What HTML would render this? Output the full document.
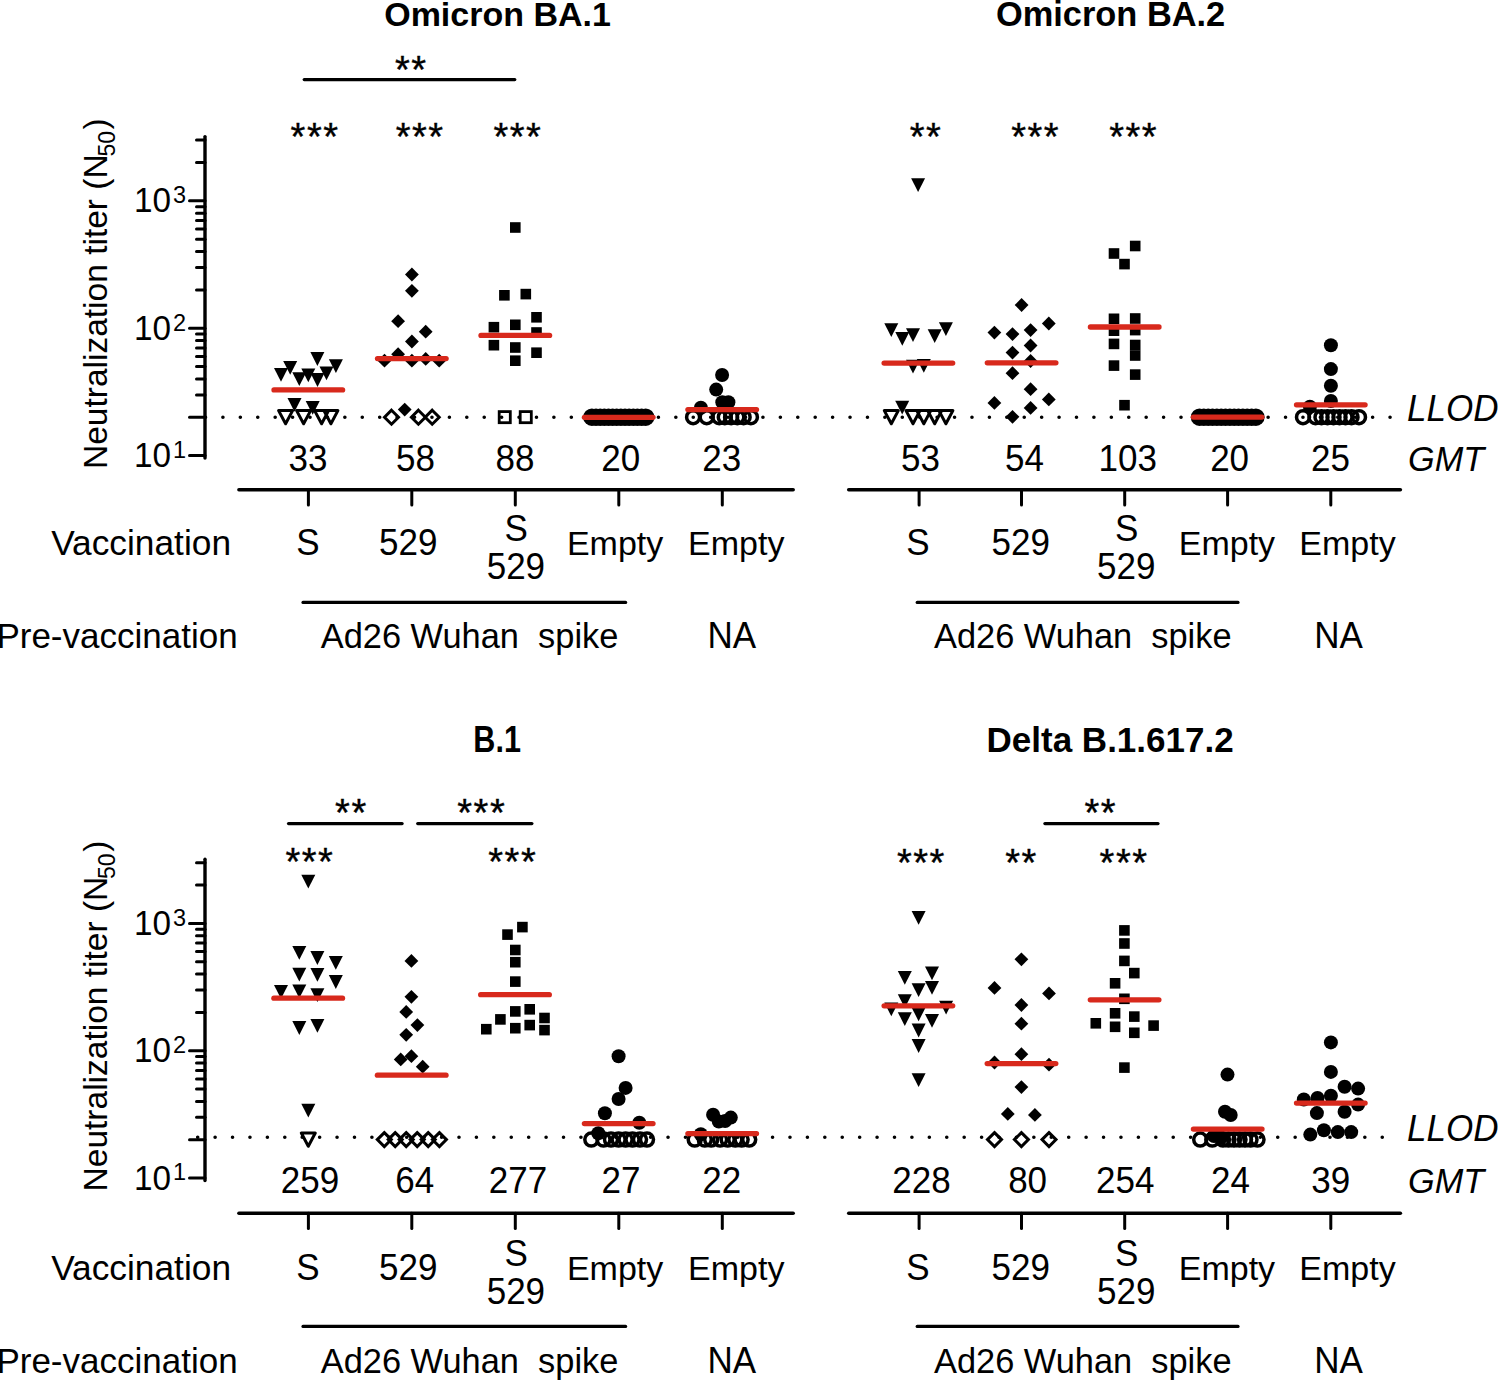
<!DOCTYPE html>
<html><head><meta charset="utf-8"><style>
html,body{margin:0;padding:0;background:#fff;width:1498px;height:1380px;overflow:hidden}
svg{display:block}
text{fill:#000;font-family:"Liberation Sans",sans-serif}
</style></head><body>
<svg width="1498" height="1380" viewBox="0 0 1498 1380">
<rect width="1498" height="1380" fill="#fff"/>
<line x1="205.0" y1="136.6" x2="205.0" y2="458.1" stroke="#000" stroke-width="3.4" stroke-linecap="round"/>
<line x1="189.5" y1="455.6" x2="205.0" y2="455.6" stroke="#000" stroke-width="3" stroke-linecap="round"/>
<line x1="189.5" y1="328.2" x2="205.0" y2="328.2" stroke="#000" stroke-width="3" stroke-linecap="round"/>
<line x1="189.5" y1="200.8" x2="205.0" y2="200.8" stroke="#000" stroke-width="3" stroke-linecap="round"/>
<line x1="189.5" y1="417.3" x2="205.0" y2="417.3" stroke="#000" stroke-width="3" stroke-linecap="round"/>
<line x1="196.5" y1="394.9" x2="205.0" y2="394.9" stroke="#000" stroke-width="3" stroke-linecap="round"/>
<line x1="196.5" y1="378.9" x2="205.0" y2="378.9" stroke="#000" stroke-width="3" stroke-linecap="round"/>
<line x1="196.5" y1="366.6" x2="205.0" y2="366.6" stroke="#000" stroke-width="3" stroke-linecap="round"/>
<line x1="196.5" y1="356.5" x2="205.0" y2="356.5" stroke="#000" stroke-width="3" stroke-linecap="round"/>
<line x1="196.5" y1="348.0" x2="205.0" y2="348.0" stroke="#000" stroke-width="3" stroke-linecap="round"/>
<line x1="196.5" y1="340.6" x2="205.0" y2="340.6" stroke="#000" stroke-width="3" stroke-linecap="round"/>
<line x1="196.5" y1="334.1" x2="205.0" y2="334.1" stroke="#000" stroke-width="3" stroke-linecap="round"/>
<line x1="196.5" y1="289.9" x2="205.0" y2="289.9" stroke="#000" stroke-width="3" stroke-linecap="round"/>
<line x1="196.5" y1="267.5" x2="205.0" y2="267.5" stroke="#000" stroke-width="3" stroke-linecap="round"/>
<line x1="196.5" y1="251.5" x2="205.0" y2="251.5" stroke="#000" stroke-width="3" stroke-linecap="round"/>
<line x1="196.5" y1="239.2" x2="205.0" y2="239.2" stroke="#000" stroke-width="3" stroke-linecap="round"/>
<line x1="196.5" y1="229.1" x2="205.0" y2="229.1" stroke="#000" stroke-width="3" stroke-linecap="round"/>
<line x1="196.5" y1="220.6" x2="205.0" y2="220.6" stroke="#000" stroke-width="3" stroke-linecap="round"/>
<line x1="196.5" y1="213.2" x2="205.0" y2="213.2" stroke="#000" stroke-width="3" stroke-linecap="round"/>
<line x1="196.5" y1="206.7" x2="205.0" y2="206.7" stroke="#000" stroke-width="3" stroke-linecap="round"/>
<line x1="196.5" y1="162.5" x2="205.0" y2="162.5" stroke="#000" stroke-width="3" stroke-linecap="round"/>
<line x1="196.5" y1="140.1" x2="205.0" y2="140.1" stroke="#000" stroke-width="3" stroke-linecap="round"/>
<line x1="205.0" y1="859.2" x2="205.0" y2="1180.5" stroke="#000" stroke-width="3.4" stroke-linecap="round"/>
<line x1="189.5" y1="1178.0" x2="205.0" y2="1178.0" stroke="#000" stroke-width="3" stroke-linecap="round"/>
<line x1="189.5" y1="1050.7" x2="205.0" y2="1050.7" stroke="#000" stroke-width="3" stroke-linecap="round"/>
<line x1="189.5" y1="923.4" x2="205.0" y2="923.4" stroke="#000" stroke-width="3" stroke-linecap="round"/>
<line x1="189.5" y1="1139.7" x2="205.0" y2="1139.7" stroke="#000" stroke-width="3" stroke-linecap="round"/>
<line x1="196.5" y1="1117.3" x2="205.0" y2="1117.3" stroke="#000" stroke-width="3" stroke-linecap="round"/>
<line x1="196.5" y1="1101.4" x2="205.0" y2="1101.4" stroke="#000" stroke-width="3" stroke-linecap="round"/>
<line x1="196.5" y1="1089.0" x2="205.0" y2="1089.0" stroke="#000" stroke-width="3" stroke-linecap="round"/>
<line x1="196.5" y1="1078.9" x2="205.0" y2="1078.9" stroke="#000" stroke-width="3" stroke-linecap="round"/>
<line x1="196.5" y1="1070.4" x2="205.0" y2="1070.4" stroke="#000" stroke-width="3" stroke-linecap="round"/>
<line x1="196.5" y1="1063.0" x2="205.0" y2="1063.0" stroke="#000" stroke-width="3" stroke-linecap="round"/>
<line x1="196.5" y1="1056.5" x2="205.0" y2="1056.5" stroke="#000" stroke-width="3" stroke-linecap="round"/>
<line x1="196.5" y1="1012.4" x2="205.0" y2="1012.4" stroke="#000" stroke-width="3" stroke-linecap="round"/>
<line x1="196.5" y1="990.0" x2="205.0" y2="990.0" stroke="#000" stroke-width="3" stroke-linecap="round"/>
<line x1="196.5" y1="974.1" x2="205.0" y2="974.1" stroke="#000" stroke-width="3" stroke-linecap="round"/>
<line x1="196.5" y1="961.7" x2="205.0" y2="961.7" stroke="#000" stroke-width="3" stroke-linecap="round"/>
<line x1="196.5" y1="951.6" x2="205.0" y2="951.6" stroke="#000" stroke-width="3" stroke-linecap="round"/>
<line x1="196.5" y1="943.1" x2="205.0" y2="943.1" stroke="#000" stroke-width="3" stroke-linecap="round"/>
<line x1="196.5" y1="935.7" x2="205.0" y2="935.7" stroke="#000" stroke-width="3" stroke-linecap="round"/>
<line x1="196.5" y1="929.2" x2="205.0" y2="929.2" stroke="#000" stroke-width="3" stroke-linecap="round"/>
<line x1="196.5" y1="885.1" x2="205.0" y2="885.1" stroke="#000" stroke-width="3" stroke-linecap="round"/>
<line x1="196.5" y1="862.7" x2="205.0" y2="862.7" stroke="#000" stroke-width="3" stroke-linecap="round"/>
<text transform="translate(133.9,467.15) scale(1,1.04)" font-size="33.3">10</text>
<text transform="translate(173.1,457.95) scale(1,1.04)" font-size="23.5">1</text>
<text transform="translate(133.9,339.75) scale(1,1.04)" font-size="33.3">10</text>
<text transform="translate(173.1,330.55) scale(1,1.04)" font-size="23.5">2</text>
<text transform="translate(133.9,212.35) scale(1,1.04)" font-size="33.3">10</text>
<text transform="translate(173.1,203.15) scale(1,1.04)" font-size="23.5">3</text>
<text transform="translate(106.8,469.0) rotate(-90)" font-size="33.5" x="0" y="0">Neutralization titer (N<tspan font-size="23" dx="-2.2" dy="7.8">50</tspan><tspan dx="1.6" dy="-7.8">)</tspan></text>
<text transform="translate(133.9,1189.50) scale(1,1.04)" font-size="33.3">10</text>
<text transform="translate(173.1,1180.30) scale(1,1.04)" font-size="23.5">1</text>
<text transform="translate(133.9,1062.20) scale(1,1.04)" font-size="33.3">10</text>
<text transform="translate(173.1,1053.00) scale(1,1.04)" font-size="23.5">2</text>
<text transform="translate(133.9,934.90) scale(1,1.04)" font-size="33.3">10</text>
<text transform="translate(173.1,925.70) scale(1,1.04)" font-size="23.5">3</text>
<text transform="translate(106.8,1191.4) rotate(-90)" font-size="33.5" x="0" y="0">Neutralization titer (N<tspan font-size="23" dx="-2.2" dy="7.8">50</tspan><tspan dx="1.6" dy="-7.8">)</tspan></text>
<line x1="205.5" y1="417.2" x2="1393.1" y2="417.2" stroke="#000" stroke-width="3.6" stroke-linecap="round" stroke-dasharray="0 17.42"/>
<line x1="197.7" y1="1137.3" x2="1385.3" y2="1137.3" stroke="#000" stroke-width="3.6" stroke-linecap="round" stroke-dasharray="0 17.42"/>
<line x1="238.9" y1="489.8" x2="793.2" y2="489.8" stroke="#000" stroke-width="3.5" stroke-linecap="round"/>
<line x1="308.4" y1="489.8" x2="308.4" y2="505.0" stroke="#000" stroke-width="3" stroke-linecap="round"/>
<line x1="411.8" y1="489.8" x2="411.8" y2="505.0" stroke="#000" stroke-width="3" stroke-linecap="round"/>
<line x1="515.3" y1="489.8" x2="515.3" y2="505.0" stroke="#000" stroke-width="3" stroke-linecap="round"/>
<line x1="618.8" y1="489.8" x2="618.8" y2="505.0" stroke="#000" stroke-width="3" stroke-linecap="round"/>
<line x1="722.3" y1="489.8" x2="722.3" y2="505.0" stroke="#000" stroke-width="3" stroke-linecap="round"/>
<line x1="303.0" y1="602.4" x2="625.6" y2="602.4" stroke="#000" stroke-width="3.2" stroke-linecap="round"/>
<line x1="848.7" y1="489.8" x2="1400.4" y2="489.8" stroke="#000" stroke-width="3.5" stroke-linecap="round"/>
<line x1="919.1" y1="489.8" x2="919.1" y2="505.0" stroke="#000" stroke-width="3" stroke-linecap="round"/>
<line x1="1021.5" y1="489.8" x2="1021.5" y2="505.0" stroke="#000" stroke-width="3" stroke-linecap="round"/>
<line x1="1124.7" y1="489.8" x2="1124.7" y2="505.0" stroke="#000" stroke-width="3" stroke-linecap="round"/>
<line x1="1227.6" y1="489.8" x2="1227.6" y2="505.0" stroke="#000" stroke-width="3" stroke-linecap="round"/>
<line x1="1330.8" y1="489.8" x2="1330.8" y2="505.0" stroke="#000" stroke-width="3" stroke-linecap="round"/>
<line x1="917.2" y1="602.4" x2="1238.0" y2="602.4" stroke="#000" stroke-width="3.2" stroke-linecap="round"/>
<line x1="238.9" y1="1213.2" x2="793.2" y2="1213.2" stroke="#000" stroke-width="3.5" stroke-linecap="round"/>
<line x1="308.4" y1="1213.2" x2="308.4" y2="1228.4" stroke="#000" stroke-width="3" stroke-linecap="round"/>
<line x1="411.8" y1="1213.2" x2="411.8" y2="1228.4" stroke="#000" stroke-width="3" stroke-linecap="round"/>
<line x1="515.3" y1="1213.2" x2="515.3" y2="1228.4" stroke="#000" stroke-width="3" stroke-linecap="round"/>
<line x1="618.8" y1="1213.2" x2="618.8" y2="1228.4" stroke="#000" stroke-width="3" stroke-linecap="round"/>
<line x1="722.3" y1="1213.2" x2="722.3" y2="1228.4" stroke="#000" stroke-width="3" stroke-linecap="round"/>
<line x1="303.0" y1="1326.4" x2="625.6" y2="1326.4" stroke="#000" stroke-width="3.2" stroke-linecap="round"/>
<line x1="848.7" y1="1213.2" x2="1400.4" y2="1213.2" stroke="#000" stroke-width="3.5" stroke-linecap="round"/>
<line x1="919.1" y1="1213.2" x2="919.1" y2="1228.4" stroke="#000" stroke-width="3" stroke-linecap="round"/>
<line x1="1021.5" y1="1213.2" x2="1021.5" y2="1228.4" stroke="#000" stroke-width="3" stroke-linecap="round"/>
<line x1="1124.7" y1="1213.2" x2="1124.7" y2="1228.4" stroke="#000" stroke-width="3" stroke-linecap="round"/>
<line x1="1227.6" y1="1213.2" x2="1227.6" y2="1228.4" stroke="#000" stroke-width="3" stroke-linecap="round"/>
<line x1="1330.8" y1="1213.2" x2="1330.8" y2="1228.4" stroke="#000" stroke-width="3" stroke-linecap="round"/>
<line x1="917.2" y1="1326.4" x2="1238.0" y2="1326.4" stroke="#000" stroke-width="3.2" stroke-linecap="round"/>
<line x1="304.2" y1="79.6" x2="514.8" y2="79.6" stroke="#000" stroke-width="3.2" stroke-linecap="round"/>
<line x1="288.5" y1="823.6" x2="402.1" y2="823.6" stroke="#000" stroke-width="3.2" stroke-linecap="round"/>
<line x1="417.7" y1="823.6" x2="531.9" y2="823.6" stroke="#000" stroke-width="3.2" stroke-linecap="round"/>
<line x1="1044.9" y1="823.6" x2="1158.0" y2="823.6" stroke="#000" stroke-width="3.2" stroke-linecap="round"/>
<text x="395.0" y="82.6" font-size="38" letter-spacing="1.52" stroke="#000" stroke-width="0.4">**</text>
<text x="290.6" y="150.3" font-size="38" letter-spacing="1.52" stroke="#000" stroke-width="0.4">***</text>
<text x="395.7" y="150.1" font-size="38" letter-spacing="1.52" stroke="#000" stroke-width="0.4">***</text>
<text x="493.4" y="150.1" font-size="38" letter-spacing="1.52" stroke="#000" stroke-width="0.4">***</text>
<text x="909.7" y="150.1" font-size="38" letter-spacing="1.52" stroke="#000" stroke-width="0.4">**</text>
<text x="1011.2" y="150.1" font-size="38" letter-spacing="1.52" stroke="#000" stroke-width="0.4">***</text>
<text x="1109.2" y="150.1" font-size="38" letter-spacing="1.52" stroke="#000" stroke-width="0.4">***</text>
<text x="335.1" y="825.7" font-size="38" letter-spacing="1.52" stroke="#000" stroke-width="0.4">**</text>
<text x="457.3" y="825.7" font-size="38" letter-spacing="1.52" stroke="#000" stroke-width="0.4">***</text>
<text x="285.4" y="875.4" font-size="38" letter-spacing="1.52" stroke="#000" stroke-width="0.4">***</text>
<text x="488.3" y="875.4" font-size="38" letter-spacing="1.52" stroke="#000" stroke-width="0.4">***</text>
<text x="1084.5" y="825.7" font-size="38" letter-spacing="1.52" stroke="#000" stroke-width="0.4">**</text>
<text x="897.0" y="875.7" font-size="38" letter-spacing="1.52" stroke="#000" stroke-width="0.4">***</text>
<text x="1005.2" y="875.7" font-size="38" letter-spacing="1.52" stroke="#000" stroke-width="0.4">**</text>
<text x="1099.6" y="875.7" font-size="38" letter-spacing="1.52" stroke="#000" stroke-width="0.4">***</text>
<text x="497.55" y="25.90" font-size="34" text-anchor="middle" font-weight="bold">Omicron BA.1</text>
<text x="1110.60" y="25.90" font-size="34.4" text-anchor="middle" font-weight="bold">Omicron BA.2</text>
<text transform="translate(497.15,751.90) scale(0.9,1.09)" font-size="34" text-anchor="middle" font-weight="bold">B.1</text>
<text x="1110.10" y="752.30" font-size="35" text-anchor="middle" font-weight="bold">Delta B.1.617.2</text>
<text transform="translate(308.05,471.00) scale(1.0,1.04)" font-size="35" text-anchor="middle">33</text>
<text transform="translate(415.45,471.00) scale(1.0,1.04)" font-size="35" text-anchor="middle">58</text>
<text transform="translate(515.05,471.00) scale(1.0,1.04)" font-size="35" text-anchor="middle">88</text>
<text transform="translate(620.70,471.00) scale(1.0,1.04)" font-size="35" text-anchor="middle">20</text>
<text transform="translate(721.70,471.00) scale(1.0,1.04)" font-size="35" text-anchor="middle">23</text>
<text transform="translate(920.45,471.00) scale(1.0,1.04)" font-size="35" text-anchor="middle">53</text>
<text transform="translate(1024.45,471.00) scale(1.0,1.04)" font-size="35" text-anchor="middle">54</text>
<text transform="translate(1127.65,471.00) scale(1.0,1.04)" font-size="35" text-anchor="middle">103</text>
<text transform="translate(1229.60,471.00) scale(1.0,1.04)" font-size="35" text-anchor="middle">20</text>
<text transform="translate(1330.40,471.00) scale(1.0,1.04)" font-size="35" text-anchor="middle">25</text>
<text transform="translate(310.00,1193.00) scale(1.0,1.04)" font-size="35" text-anchor="middle">259</text>
<text transform="translate(414.70,1193.00) scale(1.0,1.04)" font-size="35" text-anchor="middle">64</text>
<text transform="translate(518.00,1193.00) scale(1.0,1.04)" font-size="35" text-anchor="middle">277</text>
<text transform="translate(621.00,1193.00) scale(1.0,1.04)" font-size="35" text-anchor="middle">27</text>
<text transform="translate(721.70,1193.00) scale(1.0,1.04)" font-size="35" text-anchor="middle">22</text>
<text transform="translate(921.40,1193.00) scale(1.0,1.04)" font-size="35" text-anchor="middle">228</text>
<text transform="translate(1027.60,1193.00) scale(1.0,1.04)" font-size="35" text-anchor="middle">80</text>
<text transform="translate(1125.30,1193.00) scale(1.0,1.04)" font-size="35" text-anchor="middle">254</text>
<text transform="translate(1230.50,1193.00) scale(1.0,1.04)" font-size="35" text-anchor="middle">24</text>
<text transform="translate(1330.80,1193.00) scale(1.0,1.04)" font-size="35" text-anchor="middle">39</text>
<text x="141.10" y="554.90" font-size="35.3" text-anchor="middle">Vaccination</text>
<text x="117.00" y="647.50" font-size="35" text-anchor="middle">Pre-vaccination</text>
<text transform="translate(1452.80,420.80) scale(1.0,1.04)" font-size="35" text-anchor="middle" font-style="italic">LLOD</text>
<text transform="translate(1446.10,470.90) scale(1.0,1.04)" font-size="34.3" text-anchor="middle" font-style="italic">GMT</text>
<text transform="translate(307.85,554.90) scale(1.0,1.04)" font-size="35" text-anchor="middle">S</text>
<text transform="translate(408.30,554.90) scale(1.0,1.04)" font-size="35" text-anchor="middle">529</text>
<text transform="translate(516.20,541.10) scale(1.0,1.04)" font-size="35" text-anchor="middle">S</text>
<text transform="translate(515.85,579.30) scale(1.0,1.04)" font-size="35" text-anchor="middle">529</text>
<text x="615.10" y="554.90" font-size="34" text-anchor="middle">Empty</text>
<text x="736.30" y="554.90" font-size="34" text-anchor="middle">Empty</text>
<text x="469.55" y="647.50" font-size="34.4" text-anchor="middle">Ad26 Wuhan&#160;&#160;spike</text>
<text transform="translate(731.85,647.50) scale(1.0,1.04)" font-size="35" text-anchor="middle">NA</text>
<text transform="translate(918.00,554.90) scale(1.0,1.04)" font-size="35" text-anchor="middle">S</text>
<text transform="translate(1020.75,554.90) scale(1.0,1.04)" font-size="35" text-anchor="middle">529</text>
<text transform="translate(1126.60,541.10) scale(1.0,1.04)" font-size="35" text-anchor="middle">S</text>
<text transform="translate(1126.25,579.30) scale(1.0,1.04)" font-size="35" text-anchor="middle">529</text>
<text x="1226.90" y="554.90" font-size="34" text-anchor="middle">Empty</text>
<text x="1347.55" y="554.90" font-size="34" text-anchor="middle">Empty</text>
<text x="1082.75" y="647.50" font-size="34.4" text-anchor="middle">Ad26 Wuhan&#160;&#160;spike</text>
<text transform="translate(1338.45,647.50) scale(1.0,1.04)" font-size="35" text-anchor="middle">NA</text>
<text x="141.10" y="1279.90" font-size="35.3" text-anchor="middle">Vaccination</text>
<text x="117.00" y="1372.50" font-size="35" text-anchor="middle">Pre-vaccination</text>
<text transform="translate(1452.80,1140.80) scale(1.0,1.04)" font-size="35" text-anchor="middle" font-style="italic">LLOD</text>
<text transform="translate(1446.10,1193.00) scale(1.0,1.04)" font-size="34.3" text-anchor="middle" font-style="italic">GMT</text>
<text transform="translate(307.85,1279.90) scale(1.0,1.04)" font-size="35" text-anchor="middle">S</text>
<text transform="translate(408.30,1279.90) scale(1.0,1.04)" font-size="35" text-anchor="middle">529</text>
<text transform="translate(516.20,1266.10) scale(1.0,1.04)" font-size="35" text-anchor="middle">S</text>
<text transform="translate(515.85,1304.30) scale(1.0,1.04)" font-size="35" text-anchor="middle">529</text>
<text x="615.10" y="1279.90" font-size="34" text-anchor="middle">Empty</text>
<text x="736.30" y="1279.90" font-size="34" text-anchor="middle">Empty</text>
<text x="469.55" y="1372.50" font-size="34.4" text-anchor="middle">Ad26 Wuhan&#160;&#160;spike</text>
<text transform="translate(731.85,1372.50) scale(1.0,1.04)" font-size="35" text-anchor="middle">NA</text>
<text transform="translate(918.00,1279.90) scale(1.0,1.04)" font-size="35" text-anchor="middle">S</text>
<text transform="translate(1020.75,1279.90) scale(1.0,1.04)" font-size="35" text-anchor="middle">529</text>
<text transform="translate(1126.60,1266.10) scale(1.0,1.04)" font-size="35" text-anchor="middle">S</text>
<text transform="translate(1126.25,1304.30) scale(1.0,1.04)" font-size="35" text-anchor="middle">529</text>
<text x="1226.90" y="1279.90" font-size="34" text-anchor="middle">Empty</text>
<text x="1347.55" y="1279.90" font-size="34" text-anchor="middle">Empty</text>
<text x="1082.75" y="1372.50" font-size="34.4" text-anchor="middle">Ad26 Wuhan&#160;&#160;spike</text>
<text transform="translate(1338.45,1372.50) scale(1.0,1.04)" font-size="35" text-anchor="middle">NA</text>
<g fill="#000">
<path d="M274.0 367.9H288.0L281.0 381.7Z"/>
<path d="M283.2 360.9H297.2L290.2 374.7Z"/>
<path d="M310.4 352.1H324.4L317.4 365.9Z"/>
<path d="M328.9 359.2H342.9L335.9 373.0Z"/>
<path d="M292.3 372.2H306.3L299.3 386.0Z"/>
<path d="M301.3 368.5H315.3L308.3 382.3Z"/>
<path d="M310.5 373.1H324.5L317.5 386.9Z"/>
<path d="M319.5 366.4H333.5L326.5 380.2Z"/>
<path d="M287.5 398.0H301.5L294.5 411.8Z"/>
<path d="M305.7 400.9H319.7L312.7 414.7Z"/>
<path d="M278.6 410.6H292.6L285.6 423.8Z" fill="none" stroke="#000" stroke-width="3" stroke-linejoin="round"/>
<path d="M296.6 410.6H310.6L303.6 423.8Z" fill="none" stroke="#000" stroke-width="3" stroke-linejoin="round"/>
<path d="M314.6 410.6H328.6L321.6 423.8Z" fill="none" stroke="#000" stroke-width="3" stroke-linejoin="round"/>
<path d="M323.9 410.6H337.9L330.9 423.8Z" fill="none" stroke="#000" stroke-width="3" stroke-linejoin="round"/>
<path d="M411.9 267.6L418.8 274.5L411.9 281.4L405.0 274.5Z"/>
<path d="M411.9 283.9L418.8 290.8L411.9 297.7L405.0 290.8Z"/>
<path d="M398.1 314.3L405.0 321.2L398.1 328.1L391.2 321.2Z"/>
<path d="M425.7 324.8L432.6 331.7L425.7 338.6L418.8 331.7Z"/>
<path d="M411.9 334.6L418.8 341.5L411.9 348.4L405.0 341.5Z"/>
<path d="M398.1 347.3L405.0 354.2L398.1 361.1L391.2 354.2Z"/>
<path d="M384.5 353.8L391.4 360.7L384.5 367.6L377.6 360.7Z"/>
<path d="M411.9 353.8L418.8 360.7L411.9 367.6L405.0 360.7Z"/>
<path d="M425.7 352.0L432.6 358.9L425.7 365.8L418.8 358.9Z"/>
<path d="M439.2 353.8L446.1 360.7L439.2 367.6L432.3 360.7Z"/>
<path d="M404.7 402.7L411.6 409.6L404.7 416.5L397.8 409.6Z"/>
<path d="M391.5 410.2L398.5 417.2L391.5 424.2L384.5 417.2Z" fill="none" stroke="#000" stroke-width="3"/>
<path d="M418.4 410.2L425.4 417.2L418.4 424.2L411.4 417.2Z" fill="none" stroke="#000" stroke-width="3"/>
<path d="M432.2 410.2L439.2 417.2L432.2 424.2L425.2 417.2Z" fill="none" stroke="#000" stroke-width="3"/>
<rect x="510.0" y="222.2" width="10.6" height="10.6"/>
<rect x="499.1" y="290.0" width="10.6" height="10.6"/>
<rect x="520.5" y="288.8" width="10.6" height="10.6"/>
<rect x="531.2" y="312.0" width="10.6" height="10.6"/>
<rect x="488.6" y="321.9" width="10.6" height="10.6"/>
<rect x="510.0" y="319.5" width="10.6" height="10.6"/>
<rect x="531.2" y="327.2" width="10.6" height="10.6"/>
<rect x="488.6" y="339.9" width="10.6" height="10.6"/>
<rect x="510.0" y="342.2" width="10.6" height="10.6"/>
<rect x="531.2" y="347.4" width="10.6" height="10.6"/>
<rect x="510.0" y="355.4" width="10.6" height="10.6"/>
<rect x="499.2" y="411.6" width="11.1" height="11.1" fill="none" stroke="#000" stroke-width="2.8"/>
<rect x="520.2" y="411.6" width="11.1" height="11.1" fill="none" stroke="#000" stroke-width="2.8"/>
<circle cx="591.9" cy="417.2" r="8.7"/>
<circle cx="596.0" cy="417.2" r="8.7"/>
<circle cx="600.2" cy="417.2" r="8.7"/>
<circle cx="604.3" cy="417.2" r="8.7"/>
<circle cx="608.5" cy="417.2" r="8.7"/>
<circle cx="612.6" cy="417.2" r="8.7"/>
<circle cx="616.7" cy="417.2" r="8.7"/>
<circle cx="620.9" cy="417.2" r="8.7"/>
<circle cx="625.0" cy="417.2" r="8.7"/>
<circle cx="629.1" cy="417.2" r="8.7"/>
<circle cx="633.3" cy="417.2" r="8.7"/>
<circle cx="637.4" cy="417.2" r="8.7"/>
<circle cx="641.6" cy="417.2" r="8.7"/>
<circle cx="645.7" cy="417.2" r="8.7"/>
<circle cx="693.1" cy="417.2" r="6.5" fill="none" stroke="#000" stroke-width="3.5"/>
<circle cx="706.7" cy="417.2" r="6.5" fill="none" stroke="#000" stroke-width="3.5"/>
<circle cx="719.2" cy="417.2" r="6.5" fill="none" stroke="#000" stroke-width="3.5"/>
<circle cx="724.8" cy="417.2" r="6.5" fill="none" stroke="#000" stroke-width="3.5"/>
<circle cx="731.1" cy="417.2" r="6.5" fill="none" stroke="#000" stroke-width="3.5"/>
<circle cx="737.3" cy="417.2" r="6.5" fill="none" stroke="#000" stroke-width="3.5"/>
<circle cx="743.6" cy="417.2" r="6.5" fill="none" stroke="#000" stroke-width="3.5"/>
<circle cx="750.9" cy="417.2" r="6.5" fill="none" stroke="#000" stroke-width="3.5"/>
<circle cx="722.1" cy="375.0" r="7"/>
<circle cx="716.2" cy="389.6" r="7"/>
<circle cx="722.3" cy="402.3" r="7"/>
<circle cx="728.4" cy="402.3" r="7"/>
<circle cx="700.9" cy="407.8" r="7"/>
<path d="M911.1 178.3H925.1L918.1 192.1Z"/>
<path d="M884.3 323.2H898.3L891.3 337.0Z"/>
<path d="M895.3 331.9H909.3L902.3 345.7Z"/>
<path d="M906.0 328.2H920.0L913.0 342.0Z"/>
<path d="M927.7 329.2H941.7L934.7 343.0Z"/>
<path d="M938.9 322.2H952.9L945.9 336.0Z"/>
<path d="M906.0 359.7H920.0L913.0 373.5Z"/>
<path d="M916.8 358.9H930.8L923.8 372.7Z"/>
<path d="M895.2 400.7H909.2L902.2 414.5Z"/>
<path d="M884.3 410.6H898.3L891.3 423.8Z" fill="none" stroke="#000" stroke-width="3" stroke-linejoin="round"/>
<path d="M906.0 410.6H920.0L913.0 423.8Z" fill="none" stroke="#000" stroke-width="3" stroke-linejoin="round"/>
<path d="M916.8 410.6H930.8L923.8 423.8Z" fill="none" stroke="#000" stroke-width="3" stroke-linejoin="round"/>
<path d="M927.7 410.6H941.7L934.7 423.8Z" fill="none" stroke="#000" stroke-width="3" stroke-linejoin="round"/>
<path d="M938.9 410.6H952.9L945.9 423.8Z" fill="none" stroke="#000" stroke-width="3" stroke-linejoin="round"/>
<path d="M1021.6 298.1L1028.5 305.0L1021.6 311.9L1014.7 305.0Z"/>
<path d="M1048.8 316.6L1055.7 323.5L1048.8 330.4L1041.9 323.5Z"/>
<path d="M994.4 325.7L1001.3 332.6L994.4 339.5L987.5 332.6Z"/>
<path d="M1012.5 327.2L1019.4 334.1L1012.5 341.0L1005.6 334.1Z"/>
<path d="M1030.6 323.2L1037.5 330.1L1030.6 337.0L1023.7 330.1Z"/>
<path d="M1030.6 338.6L1037.5 345.5L1030.6 352.4L1023.7 345.5Z"/>
<path d="M1012.5 345.7L1019.4 352.6L1012.5 359.5L1005.6 352.6Z"/>
<path d="M1030.6 354.1L1037.5 361.0L1030.6 367.9L1023.7 361.0Z"/>
<path d="M1012.5 366.3L1019.4 373.2L1012.5 380.1L1005.6 373.2Z"/>
<path d="M1030.6 382.3L1037.5 389.2L1030.6 396.1L1023.7 389.2Z"/>
<path d="M1048.8 392.5L1055.7 399.4L1048.8 406.3L1041.9 399.4Z"/>
<path d="M994.4 396.0L1001.3 402.9L994.4 409.8L987.5 402.9Z"/>
<path d="M1030.6 401.0L1037.5 407.9L1030.6 414.8L1023.7 407.9Z"/>
<path d="M1012.5 409.9L1019.4 416.8L1012.5 423.7L1005.6 416.8Z"/>
<rect x="1129.9" y="240.7" width="10.6" height="10.6"/>
<rect x="1108.7" y="248.2" width="10.6" height="10.6"/>
<rect x="1119.2" y="258.8" width="10.6" height="10.6"/>
<rect x="1108.7" y="313.5" width="10.6" height="10.6"/>
<rect x="1129.9" y="313.2" width="10.6" height="10.6"/>
<rect x="1108.7" y="325.4" width="10.6" height="10.6"/>
<rect x="1129.9" y="324.8" width="10.6" height="10.6"/>
<rect x="1108.7" y="338.6" width="10.6" height="10.6"/>
<rect x="1129.9" y="339.7" width="10.6" height="10.6"/>
<rect x="1129.9" y="350.2" width="10.6" height="10.6"/>
<rect x="1108.7" y="360.3" width="10.6" height="10.6"/>
<rect x="1129.9" y="369.3" width="10.6" height="10.6"/>
<rect x="1119.2" y="399.9" width="10.6" height="10.6"/>
<circle cx="1199.5" cy="417.2" r="8.7"/>
<circle cx="1203.8" cy="417.2" r="8.7"/>
<circle cx="1208.2" cy="417.2" r="8.7"/>
<circle cx="1212.5" cy="417.2" r="8.7"/>
<circle cx="1216.9" cy="417.2" r="8.7"/>
<circle cx="1221.2" cy="417.2" r="8.7"/>
<circle cx="1225.5" cy="417.2" r="8.7"/>
<circle cx="1229.9" cy="417.2" r="8.7"/>
<circle cx="1234.2" cy="417.2" r="8.7"/>
<circle cx="1238.5" cy="417.2" r="8.7"/>
<circle cx="1242.9" cy="417.2" r="8.7"/>
<circle cx="1247.2" cy="417.2" r="8.7"/>
<circle cx="1251.6" cy="417.2" r="8.7"/>
<circle cx="1255.9" cy="417.2" r="8.7"/>
<circle cx="1303.0" cy="417.2" r="6.5" fill="none" stroke="#000" stroke-width="3.5"/>
<circle cx="1315.5" cy="417.2" r="6.5" fill="none" stroke="#000" stroke-width="3.5"/>
<circle cx="1321.5" cy="417.2" r="6.5" fill="none" stroke="#000" stroke-width="3.5"/>
<circle cx="1327.5" cy="417.2" r="6.5" fill="none" stroke="#000" stroke-width="3.5"/>
<circle cx="1333.5" cy="417.2" r="6.5" fill="none" stroke="#000" stroke-width="3.5"/>
<circle cx="1339.5" cy="417.2" r="6.5" fill="none" stroke="#000" stroke-width="3.5"/>
<circle cx="1345.5" cy="417.2" r="6.5" fill="none" stroke="#000" stroke-width="3.5"/>
<circle cx="1351.5" cy="417.2" r="6.5" fill="none" stroke="#000" stroke-width="3.5"/>
<circle cx="1359.0" cy="417.2" r="6.5" fill="none" stroke="#000" stroke-width="3.5"/>
<circle cx="1330.9" cy="345.2" r="7"/>
<circle cx="1330.9" cy="369.1" r="7"/>
<circle cx="1330.9" cy="385.8" r="7"/>
<circle cx="1330.9" cy="401.0" r="7"/>
<circle cx="1309.9" cy="406.7" r="7"/>
<path d="M301.3 874.8H315.3L308.3 888.6Z"/>
<path d="M292.3 946.0H306.3L299.3 959.8Z"/>
<path d="M310.4 951.1H324.4L317.4 964.9Z"/>
<path d="M328.8 956.0H342.8L335.8 969.8Z"/>
<path d="M292.3 967.7H306.3L299.3 981.5Z"/>
<path d="M310.4 968.0H324.4L317.4 981.8Z"/>
<path d="M328.8 975.1H342.8L335.8 988.9Z"/>
<path d="M274.0 985.0H288.0L281.0 998.8Z"/>
<path d="M292.3 984.4H306.3L299.3 998.2Z"/>
<path d="M310.4 988.3H324.4L317.4 1002.1Z"/>
<path d="M292.3 1021.1H306.3L299.3 1034.9Z"/>
<path d="M310.4 1019.0H324.4L317.4 1032.8Z"/>
<path d="M301.3 1103.7H315.3L308.3 1117.5Z"/>
<path d="M301.3 1133.0H315.3L308.3 1146.2Z" fill="none" stroke="#000" stroke-width="3" stroke-linejoin="round"/>
<path d="M411.4 954.0L418.3 960.9L411.4 967.8L404.5 960.9Z"/>
<path d="M411.4 989.9L418.3 996.8L411.4 1003.7L404.5 996.8Z"/>
<path d="M406.2 1005.0L413.1 1011.9L406.2 1018.8L399.3 1011.9Z"/>
<path d="M417.4 1018.2L424.3 1025.1L417.4 1032.0L410.5 1025.1Z"/>
<path d="M406.2 1027.9L413.1 1034.8L406.2 1041.7L399.3 1034.8Z"/>
<path d="M400.7 1052.5L407.6 1059.4L400.7 1066.3L393.8 1059.4Z"/>
<path d="M411.4 1049.3L418.3 1056.2L411.4 1063.1L404.5 1056.2Z"/>
<path d="M422.7 1059.8L429.6 1066.7L422.7 1073.6L415.8 1066.7Z"/>
<path d="M384.3 1132.6L391.3 1139.6L384.3 1146.6L377.3 1139.6Z" fill="none" stroke="#000" stroke-width="3"/>
<path d="M395.2 1132.6L402.2 1139.6L395.2 1146.6L388.2 1139.6Z" fill="none" stroke="#000" stroke-width="3"/>
<path d="M406.2 1132.6L413.2 1139.6L406.2 1146.6L399.2 1139.6Z" fill="none" stroke="#000" stroke-width="3"/>
<path d="M417.2 1132.6L424.2 1139.6L417.2 1146.6L410.2 1139.6Z" fill="none" stroke="#000" stroke-width="3"/>
<path d="M428.2 1132.6L435.2 1139.6L428.2 1146.6L421.2 1139.6Z" fill="none" stroke="#000" stroke-width="3"/>
<path d="M439.4 1132.6L446.4 1139.6L439.4 1146.6L432.4 1139.6Z" fill="none" stroke="#000" stroke-width="3"/>
<rect x="517.1" y="921.8" width="10.6" height="10.6"/>
<rect x="502.2" y="929.3" width="10.6" height="10.6"/>
<rect x="510.0" y="944.7" width="10.6" height="10.6"/>
<rect x="510.0" y="956.9" width="10.6" height="10.6"/>
<rect x="510.0" y="976.3" width="10.6" height="10.6"/>
<rect x="510.0" y="1006.1" width="10.6" height="10.6"/>
<rect x="524.4" y="1004.0" width="10.6" height="10.6"/>
<rect x="495.1" y="1014.1" width="10.6" height="10.6"/>
<rect x="481.0" y="1023.9" width="10.6" height="10.6"/>
<rect x="510.0" y="1022.9" width="10.6" height="10.6"/>
<rect x="524.4" y="1019.8" width="10.6" height="10.6"/>
<rect x="539.2" y="1012.7" width="10.6" height="10.6"/>
<rect x="539.2" y="1024.8" width="10.6" height="10.6"/>
<circle cx="591.3" cy="1139.6" r="6.5" fill="none" stroke="#000" stroke-width="3.5"/>
<circle cx="603.5" cy="1139.6" r="6.5" fill="none" stroke="#000" stroke-width="3.5"/>
<circle cx="611.0" cy="1139.6" r="6.5" fill="none" stroke="#000" stroke-width="3.5"/>
<circle cx="618.6" cy="1139.6" r="6.5" fill="none" stroke="#000" stroke-width="3.5"/>
<circle cx="625.6" cy="1139.6" r="6.5" fill="none" stroke="#000" stroke-width="3.5"/>
<circle cx="632.5" cy="1139.6" r="6.5" fill="none" stroke="#000" stroke-width="3.5"/>
<circle cx="640.0" cy="1139.6" r="6.5" fill="none" stroke="#000" stroke-width="3.5"/>
<circle cx="647.0" cy="1139.6" r="6.5" fill="none" stroke="#000" stroke-width="3.5"/>
<circle cx="618.6" cy="1056.2" r="7"/>
<circle cx="625.6" cy="1087.9" r="7"/>
<circle cx="618.6" cy="1099.0" r="7"/>
<circle cx="604.9" cy="1113.3" r="7"/>
<circle cx="639.3" cy="1122.7" r="7"/>
<circle cx="598.3" cy="1133.2" r="7"/>
<circle cx="694.7" cy="1139.6" r="6.5" fill="none" stroke="#000" stroke-width="3.5"/>
<circle cx="704.8" cy="1139.6" r="6.5" fill="none" stroke="#000" stroke-width="3.5"/>
<circle cx="711.2" cy="1139.6" r="6.5" fill="none" stroke="#000" stroke-width="3.5"/>
<circle cx="720.1" cy="1139.6" r="6.5" fill="none" stroke="#000" stroke-width="3.5"/>
<circle cx="727.7" cy="1139.6" r="6.5" fill="none" stroke="#000" stroke-width="3.5"/>
<circle cx="735.3" cy="1139.6" r="6.5" fill="none" stroke="#000" stroke-width="3.5"/>
<circle cx="741.6" cy="1139.6" r="6.5" fill="none" stroke="#000" stroke-width="3.5"/>
<circle cx="749.2" cy="1139.6" r="6.5" fill="none" stroke="#000" stroke-width="3.5"/>
<circle cx="713.1" cy="1114.8" r="7"/>
<circle cx="730.8" cy="1117.6" r="7"/>
<circle cx="718.8" cy="1121.5" r="7"/>
<circle cx="725.1" cy="1121.0" r="7"/>
<circle cx="700.8" cy="1134.2" r="7"/>
<path d="M911.6 911.0H925.6L918.6 924.8Z"/>
<path d="M925.0 966.4H939.0L932.0 980.2Z"/>
<path d="M897.8 970.9H911.8L904.8 984.7Z"/>
<path d="M911.6 983.3H925.6L918.6 997.1Z"/>
<path d="M925.0 981.0H939.0L932.0 994.8Z"/>
<path d="M897.8 994.3H911.8L904.8 1008.1Z"/>
<path d="M884.3 1002.5H898.3L891.3 1016.3Z"/>
<path d="M939.1 1000.8H953.1L946.1 1014.6Z"/>
<path d="M911.6 1007.4H925.6L918.6 1021.2Z"/>
<path d="M897.8 1012.2H911.8L904.8 1026.0Z"/>
<path d="M925.0 1014.0H939.0L932.0 1027.8Z"/>
<path d="M911.6 1023.6H925.6L918.6 1037.4Z"/>
<path d="M911.6 1039.1H925.6L918.6 1052.9Z"/>
<path d="M911.6 1073.2H925.6L918.6 1087.0Z"/>
<path d="M1021.4 952.4L1028.3 959.3L1021.4 966.2L1014.5 959.3Z"/>
<path d="M994.5 981.0L1001.4 987.9L994.5 994.8L987.6 987.9Z"/>
<path d="M1049.0 986.5L1055.9 993.4L1049.0 1000.3L1042.1 993.4Z"/>
<path d="M1021.4 998.1L1028.3 1005.0L1021.4 1011.9L1014.5 1005.0Z"/>
<path d="M1021.4 1016.8L1028.3 1023.7L1021.4 1030.6L1014.5 1023.7Z"/>
<path d="M1021.4 1047.3L1028.3 1054.2L1021.4 1061.1L1014.5 1054.2Z"/>
<path d="M994.5 1055.6L1001.4 1062.5L994.5 1069.4L987.6 1062.5Z"/>
<path d="M1049.0 1057.8L1055.9 1064.7L1049.0 1071.6L1042.1 1064.7Z"/>
<path d="M1021.4 1080.2L1028.3 1087.1L1021.4 1094.0L1014.5 1087.1Z"/>
<path d="M1007.8 1107.0L1014.7 1113.9L1007.8 1120.8L1000.9 1113.9Z"/>
<path d="M1034.9 1108.0L1041.8 1114.9L1034.9 1121.8L1028.0 1114.9Z"/>
<path d="M994.5 1132.6L1001.5 1139.6L994.5 1146.6L987.5 1139.6Z" fill="none" stroke="#000" stroke-width="3"/>
<path d="M1021.4 1132.6L1028.4 1139.6L1021.4 1146.6L1014.4 1139.6Z" fill="none" stroke="#000" stroke-width="3"/>
<path d="M1049.0 1132.6L1056.0 1139.6L1049.0 1146.6L1042.0 1139.6Z" fill="none" stroke="#000" stroke-width="3"/>
<rect x="1119.1" y="925.1" width="10.6" height="10.6"/>
<rect x="1119.1" y="938.2" width="10.6" height="10.6"/>
<rect x="1119.1" y="955.6" width="10.6" height="10.6"/>
<rect x="1129.0" y="967.8" width="10.6" height="10.6"/>
<rect x="1109.8" y="978.0" width="10.6" height="10.6"/>
<rect x="1119.1" y="993.5" width="10.6" height="10.6"/>
<rect x="1109.8" y="1008.0" width="10.6" height="10.6"/>
<rect x="1129.0" y="1011.3" width="10.6" height="10.6"/>
<rect x="1090.5" y="1018.0" width="10.6" height="10.6"/>
<rect x="1109.8" y="1021.5" width="10.6" height="10.6"/>
<rect x="1148.3" y="1020.3" width="10.6" height="10.6"/>
<rect x="1129.0" y="1027.5" width="10.6" height="10.6"/>
<rect x="1119.1" y="1062.3" width="10.6" height="10.6"/>
<circle cx="1200.2" cy="1139.6" r="6.5" fill="none" stroke="#000" stroke-width="3.5"/>
<circle cx="1212.3" cy="1139.6" r="6.5" fill="none" stroke="#000" stroke-width="3.5"/>
<circle cx="1223.0" cy="1139.6" r="6.5" fill="none" stroke="#000" stroke-width="3.5"/>
<circle cx="1228.5" cy="1139.6" r="6.5" fill="none" stroke="#000" stroke-width="3.5"/>
<circle cx="1234.0" cy="1139.6" r="6.5" fill="none" stroke="#000" stroke-width="3.5"/>
<circle cx="1239.5" cy="1139.6" r="6.5" fill="none" stroke="#000" stroke-width="3.5"/>
<circle cx="1245.0" cy="1139.6" r="6.5" fill="none" stroke="#000" stroke-width="3.5"/>
<circle cx="1250.5" cy="1139.6" r="6.5" fill="none" stroke="#000" stroke-width="3.5"/>
<circle cx="1257.5" cy="1139.6" r="6.5" fill="none" stroke="#000" stroke-width="3.5"/>
<circle cx="1227.5" cy="1074.6" r="7"/>
<circle cx="1225.0" cy="1111.8" r="7"/>
<circle cx="1230.7" cy="1115.0" r="7"/>
<circle cx="1214.0" cy="1136.0" r="7"/>
<circle cx="1221.0" cy="1137.5" r="7"/>
<circle cx="1330.9" cy="1042.4" r="7"/>
<circle cx="1330.9" cy="1071.9" r="7"/>
<circle cx="1344.6" cy="1086.8" r="7"/>
<circle cx="1358.1" cy="1088.6" r="7"/>
<circle cx="1303.8" cy="1099.5" r="7"/>
<circle cx="1317.5" cy="1097.9" r="7"/>
<circle cx="1330.9" cy="1095.7" r="7"/>
<circle cx="1358.1" cy="1104.6" r="7"/>
<circle cx="1316.9" cy="1113.1" r="7"/>
<circle cx="1344.6" cy="1111.8" r="7"/>
<circle cx="1310.3" cy="1134.6" r="7"/>
<circle cx="1323.9" cy="1130.2" r="7"/>
<circle cx="1337.8" cy="1132.1" r="7"/>
<circle cx="1351.2" cy="1132.1" r="7"/>
</g>
<line x1="274.0" y1="389.9" x2="342.6" y2="389.9" stroke="#d8291c" stroke-width="5.3" stroke-linecap="round"/>
<line x1="377.5" y1="358.6" x2="446.1" y2="358.6" stroke="#d8291c" stroke-width="5.3" stroke-linecap="round"/>
<line x1="481.0" y1="335.4" x2="549.6" y2="335.4" stroke="#d8291c" stroke-width="5.3" stroke-linecap="round"/>
<line x1="584.4" y1="417.3" x2="653.0" y2="417.3" stroke="#d8291c" stroke-width="5.3" stroke-linecap="round"/>
<line x1="687.9" y1="409.6" x2="756.5" y2="409.6" stroke="#d8291c" stroke-width="5.3" stroke-linecap="round"/>
<line x1="884.1" y1="363.1" x2="952.7" y2="363.1" stroke="#d8291c" stroke-width="5.3" stroke-linecap="round"/>
<line x1="987.3" y1="362.8" x2="1055.9" y2="362.8" stroke="#d8291c" stroke-width="5.3" stroke-linecap="round"/>
<line x1="1090.4" y1="327.0" x2="1159.0" y2="327.0" stroke="#d8291c" stroke-width="5.3" stroke-linecap="round"/>
<line x1="1193.3" y1="417.1" x2="1261.9" y2="417.1" stroke="#d8291c" stroke-width="5.3" stroke-linecap="round"/>
<line x1="1296.5" y1="404.8" x2="1365.1" y2="404.8" stroke="#d8291c" stroke-width="5.3" stroke-linecap="round"/>
<line x1="273.9" y1="998.2" x2="342.5" y2="998.2" stroke="#d8291c" stroke-width="5.3" stroke-linecap="round"/>
<line x1="377.4" y1="1075.2" x2="446.0" y2="1075.2" stroke="#d8291c" stroke-width="5.3" stroke-linecap="round"/>
<line x1="480.7" y1="994.7" x2="549.3" y2="994.7" stroke="#d8291c" stroke-width="5.3" stroke-linecap="round"/>
<line x1="584.4" y1="1123.6" x2="653.0" y2="1123.6" stroke="#d8291c" stroke-width="5.3" stroke-linecap="round"/>
<line x1="687.9" y1="1133.6" x2="756.5" y2="1133.6" stroke="#d8291c" stroke-width="5.3" stroke-linecap="round"/>
<line x1="884.1" y1="1005.8" x2="952.7" y2="1005.8" stroke="#d8291c" stroke-width="5.3" stroke-linecap="round"/>
<line x1="987.2" y1="1063.6" x2="1055.8" y2="1063.6" stroke="#d8291c" stroke-width="5.3" stroke-linecap="round"/>
<line x1="1090.3" y1="999.8" x2="1158.9" y2="999.8" stroke="#d8291c" stroke-width="5.3" stroke-linecap="round"/>
<line x1="1193.4" y1="1129.1" x2="1262.0" y2="1129.1" stroke="#d8291c" stroke-width="5.3" stroke-linecap="round"/>
<line x1="1296.5" y1="1103.1" x2="1365.1" y2="1103.1" stroke="#d8291c" stroke-width="5.3" stroke-linecap="round"/>
</svg>
</body></html>
